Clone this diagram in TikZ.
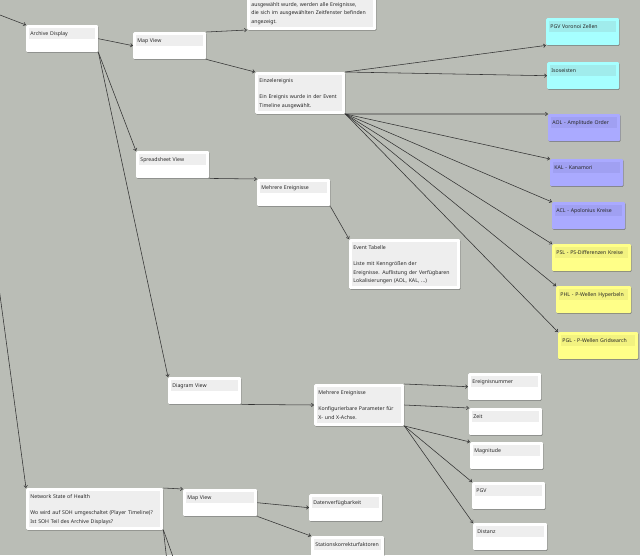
\documentclass[tikz,border=0pt]{standalone}
\usepackage{fontspec}
\setmainfont{Noto Sans}
\usepackage{tikz}
\usetikzlibrary{arrows.meta,shadows}
\usepackage{xcolor}

\definecolor{canvas}{RGB}{186,189,182}
\definecolor{plainband}{RGB}{238,238,238}
\definecolor{cyanbox}{RGB}{166,255,255}
\definecolor{cyanband}{RGB}{160,236,236}
\definecolor{lilabox}{RGB}{170,170,255}
\definecolor{lilaband}{RGB}{160,160,242}
\definecolor{gelbbox}{RGB}{255,255,136}
\definecolor{gelbband}{RGB}{242,242,128}
\definecolor{linegray}{RGB}{50,50,50}
\setlength{\fboxsep}{1.2pt}
\def\bandname{plainband}
\newcommand{\band}[1]{\colorbox{\bandname}{\parbox[t]{\dimexpr\hsize-2\fboxsep\relax}{\raggedright\hbadness=10000\strut#1\strut}}}

\tikzset{
  bandcol/.code={\def\bandname{#1}},
  note/.style={rectangle, fill=white, rounded corners=1.2pt, inner sep=3pt, anchor=north west,
    text width=#1, font=\fontsize{5.2}{8.3}\selectfont, text=black!85, bandcol=plainband,
    drop shadow={shadow xshift=0.5pt, shadow yshift=-0.7pt, fill=black, opacity=0.3}},
  note/.default=67pt,
  card/.style={note=#1, text depth=14pt},
  card/.default=67pt,
  cyancard/.style={card=#1, fill=cyanbox, bandcol=cyanband},
  cyancard/.default=67pt,
  lilacard/.style={card=#1, fill=lilabox, bandcol=lilaband},
  lilacard/.default=67pt,
  gelbcard/.style={card=#1, fill=gelbbox, bandcol=gelbband},
  gelbcard/.default=67pt,
  conn/.style={draw=linegray, line width=0.55pt, ->}
}

\begin{document}
\begin{tikzpicture}[x=1pt, y=-1pt, >={Straight Barb[length=2.2pt,width=3.6pt]}]
  \fill[canvas] (0,0) rectangle (640,555);
  \useasboundingbox (0,0) rectangle (640,555);

  \node[card=66pt] (arch) at (26,25) {\band{Archive Display}};
  \node[card] (mapA) at (133,32) {\band{Map View}};
  \node[note=123pt, anchor=south west] (alle) at (247,30) {\band{ausgewählt wurde, werden alle Ereignisse,\\die sich im ausgewählten Zeitfenster befinden\\angezeigt.}};
  \node[note=84pt] (einzel) at (255,72) {\band{Einzelereignis\\[8.3pt]Ein Ereignis wurde in der Event\\Timeline ausgewählt.}};

  \node[cyancard] (pgvz) at (546,18) {\band{PGV Voronoi Zellen}};
  \node[cyancard=66pt] (iso) at (547,62) {\band{Isoseisten}};
  \node[lilacard=66pt] (aol) at (548,114) {\band{AOL - Amplitude Order}};
  \node[lilacard] (kal) at (550,159) {\band{KAL - Kanamori}};
  \node[lilacard] (acl) at (552,202) {\band{ACL - Apolonius Kreise}};
  \node[gelbcard=73pt] (psl) at (552,244) {\band{PSL - PS-Differenzen Kreise}};
  \node[gelbcard=69pt] (phl) at (556,286) {\band{PHL - P-Wellen Hyperbeln}};
  \node[gelbcard=74pt] (pgl) at (558,332) {\band{PGL - P-Wellen Gridsearch}};

  \node[card] (spread) at (136,151) {\band{Spreadsheet View}};
  \node[card] (mehrA) at (257,179) {\band{Mehrere Ereignisse}};
  \node[note=105pt] (tabelle) at (349,239) {\band{Event Tabelle\\[8.3pt]Liste mit Kenngrößen der\\Ereignisse. Auflistung der Verfügbaren\\Lokalisierungen (AOL, KAL, ...)}};

  \node[card] (diag) at (168,377) {\band{Diagram View}};
  \node[note=84pt] (mehrB) at (314,384) {\band{Mehrere Ereignisse\\[8.3pt]Konfigurierbare Parameter für\\X- und X-Achse.}};
  \node[card] (nummer) at (468,373) {\band{Ereignisnummer}};
  \node[card] (zeit) at (469,408) {\band{Zeit}};
  \node[card] (mag) at (470,442) {\band{Magnitude}};
  \node[card] (pgvB) at (472,482) {\band{PGV}};
  \node[card=68pt] (dist) at (473,523) {\band{Distanz}};

  \node[note=131pt] (soh) at (26,488) {\band{Network State of Health\\[8.3pt]Wo wird auf SOH umgeschaltet (Player Timeline)?\\Ist SOH Teil des Archive Displays?}};
  \node[card=68pt] (mapB) at (183,489) {\band{Map View}};
  \node[card] (daten) at (309,494) {\band{Datenverfügbarkeit}};
  \node[card] (station) at (311,536) {\band{Stationskorrekturfaktoren}};

  \coordinate (vorA) at (-30,3.5);
  \coordinate (vorB) at (-10,221);
  \coordinate (weiterA) at (168.5,575);
  \coordinate (weiterB) at (179.5,575);

  \draw[conn] (vorA) -- (arch.north west);
  \draw[conn] (vorB) -- (soh.north west);
  \draw[conn] (arch.east) -- (mapA.west);
  \draw[conn] (arch.south east) -- (spread.north west);
  \draw[conn] (arch.south east) -- (diag.north west);
  \draw[conn] (mapA.north east) -- (alle.south west);
  \draw[conn] (mapA.south east) -- (einzel.north west);
  \draw[conn] (einzel.north east) -- (pgvz.south west);
  \draw[conn] (einzel.north east) -- (iso.west);
  \foreach \ziel in {aol,kal,acl,psl,phl,pgl}
    \draw[conn] (einzel.south east) -- (\ziel.north west);
  \draw[conn] (spread.south east) -- (mehrA.north west);
  \draw[conn] (mehrA.south east) -- (tabelle.north west);
  \draw[conn] (diag.south east) -- (mehrB.west);
  \draw[conn] (mehrB.north east) -- (nummer.west);
  \draw[conn] (mehrB.east) -- (zeit.north west);
  \foreach \ziel in {mag,pgvB,dist}
    \draw[conn] (mehrB.south east) -- (\ziel.north west);
  \draw[conn] (soh.north east) -- (mapB.north west);
  \draw[conn] (mapB.east) -- (daten.west);
  \draw[conn] (mapB.south east) -- (station.north west);
  \draw[conn] (soh.south east) -- (weiterA);
  \draw[conn] (soh.south east) -- (weiterB);
\end{tikzpicture}
\end{document}
